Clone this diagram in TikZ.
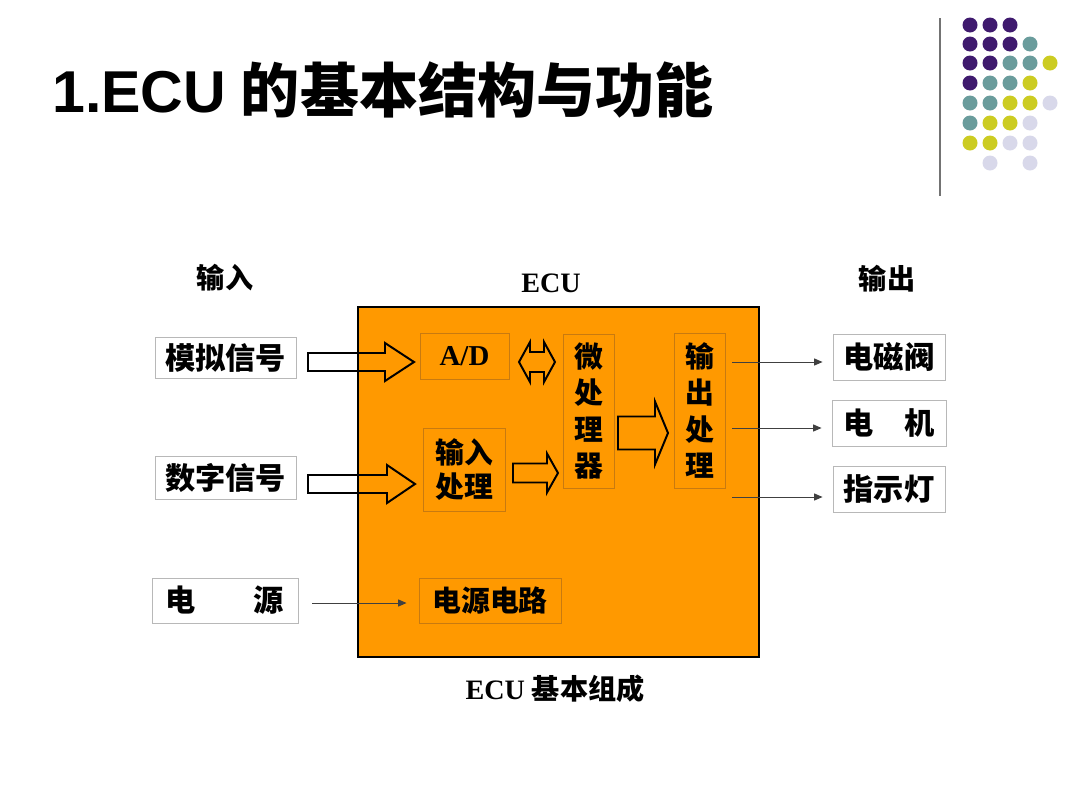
\documentclass[tikz,border=0pt]{standalone}
\usepackage{fontspec}
\setmainfont{Liberation Serif}
\newfontfamily\cjk{Noto Sans CJK SC}
\newfontfamily\arial{Liberation Sans}
\usetikzlibrary{arrows.meta}
\definecolor{ecuorange}{HTML}{FF9900}
\definecolor{inedge}{HTML}{C87A10}
\definecolor{dpurple}{HTML}{3F1A6E}
\definecolor{dteal}{HTML}{6A9C9C}
\definecolor{dyellow}{HTML}{CCCC22}
\definecolor{dlav}{HTML}{D8D8EA}
\newcommand{\blockarr}[6]{% x1 x2 y bodyhalf headhalf headlen
  \draw[barrow] (#1,#3-#4) -- (#2-#6,#3-#4) -- (#2-#6,#3-#5) -- (#2,#3) -- (#2-#6,#3+#5) -- (#2-#6,#3+#4) -- (#1,#3+#4) -- cycle;}
\begin{document}
\begin{tikzpicture}[x=0.025cm,y=-0.025cm,
  lbox/.style={draw=black!28, fill=white, line width=0.6pt, inner sep=0pt, font=\cjk\bfseries\fontsize{21.5}{24}\selectfont},
  inbox/.style={draw=inedge, line width=0.6pt, inner sep=0pt, align=center, font=\cjk\bfseries\fontsize{20.5}{26}\selectfont},
  conn/.style={draw=black!75, line width=0.7pt, -{Triangle[length=6pt,width=5pt]}},
  barrow/.style={draw=black, line width=1.4pt, line join=miter},
  lab/.style={font=\cjk\bfseries\fontsize{20}{24}\selectfont},
  dot/.style={radius=7.5}]
\useasboundingbox (0,0) rectangle (1080,810);
% decoration
\draw[black!55, line width=1.4pt] (940,18) -- (940,196);
\foreach \x/\y/\c in {970/25/dpurple,990/25/dpurple,1010/25/dpurple,
  970/44/dpurple,990/44/dpurple,1010/44/dpurple,1030/44/dteal,
  970/63/dpurple,990/63/dpurple,1010/63/dteal,1030/63/dteal,1050/63/dyellow,
  970/83/dpurple,990/83/dteal,1010/83/dteal,1030/83/dyellow,
  970/103/dteal,990/103/dteal,1010/103/dyellow,1030/103/dyellow,1050/103/dlav,
  970/123/dteal,990/123/dyellow,1010/123/dyellow,1030/123/dlav,
  970/143/dyellow,990/143/dyellow,1010/143/dlav,1030/143/dlav,
  990/163/dlav,1030/163/dlav}
  \fill[\c] (\x,\y) circle[dot];
% title
\node[anchor=base west, inner sep=0pt] (title) at (52,112)
  {\fontsize{42}{48}\selectfont{\arial\bfseries 1.ECU} {\cjk\bfseries 的基本结构与功能}};
% headings
\node[lab] (hin) at (225,278) {输入};
\node[font=\bfseries\fontsize{20}{24}\selectfont] (hecu) at (551,283) {ECU};
\node[lab] (hout) at (887,279) {输出};
\node (cap) at (555,689) {\fontsize{20}{24}\selectfont{\bfseries ECU} {\cjk\bfseries 基本组成}};
% ECU box
\draw[fill=ecuorange, draw=black, line width=1.6pt] (358,307) rectangle (759,657);
% inner boxes
\node[inbox, minimum width=2.225cm, minimum height=1.15cm, font=\bfseries\fontsize{20.5}{24}\selectfont] (ad) at (464.5,356) {A/D};
\node[inbox, minimum width=1.275cm, minimum height=3.85cm] (mp) at (588.5,411) {微\\处\\理\\器};
\node[inbox, minimum width=2.05cm, minimum height=2.075cm, font=\cjk\bfseries\fontsize{20.5}{23.5}\selectfont] (ip) at (464,469.5) {输入\\处理};
\node[inbox, minimum width=1.275cm, minimum height=3.875cm] (op) at (699.5,410.5) {输\\出\\处\\理};
\node[inbox, minimum width=3.55cm, minimum height=1.125cm] (pc) at (490,600.5) {电源电路};
% left boxes
\node[lbox, minimum width=3.525cm, minimum height=1.025cm] (an) at (225.5,357.5) {模拟信号};
\node[lbox, minimum width=3.525cm, minimum height=1.075cm] (dg) at (225.5,477.5) {数字信号};
\node[lbox, minimum width=3.65cm, minimum height=1.125cm] (ps) at (225,600.5) {电\hspace{1.45cm}源};
% right boxes
\node[lbox, minimum width=2.8cm, minimum height=1.15cm] (sv) at (889,357) {电磁阀};
\node[lbox, minimum width=2.85cm, minimum height=1.15cm] (mo) at (889,423) {电\hspace{0.78cm}机};
\node[lbox, minimum width=2.8cm, minimum height=1.15cm] (lp) at (889,489) {指示灯};
% block arrows
\blockarr{308}{414}{362}{9}{19}{29}
\blockarr{308}{415}{484}{9}{19}{28}
\blockarr{513}{558}{473}{9.5}{19.5}{11}
\blockarr{618}{668}{433}{16.5}{31.5}{13}
\draw[barrow] (519,362) -- (530,342) -- (530,352) -- (544,352) -- (544,342) -- (555,362)
  -- (544,382) -- (544,372) -- (530,372) -- (530,382) -- cycle;
% thin connectors
\coordinate (o1) at (732,362);
\coordinate (o2) at (732,428);
\coordinate (o3) at (732,497);
\coordinate (p1) at (312,603);
\draw[conn, shorten >=0.25cm] (o1) -- (o1 -| sv.west);
\draw[conn, shorten >=0.25cm] (o2) -- (o2 -| mo.west);
\draw[conn, shorten >=0.25cm] (o3) -- (o3 -| lp.west);
\draw[conn, shorten >=0.3cm] (p1) -- (p1 -| pc.west);
\end{tikzpicture}
\end{document}
